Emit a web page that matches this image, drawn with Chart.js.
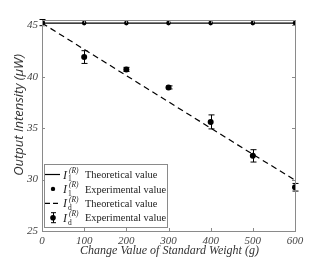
<!DOCTYPE html>
<html>
<head>
<meta charset="utf-8">
<script src="https://cdn.jsdelivr.net/npm/chart.js@4"></script>
<style>
  html, body { margin: 0; padding: 0; background: #fff; }
  #wrap { width: 327px; height: 262px; }
</style>
</head>
<body>
<div id="wrap"><canvas id="chart"></canvas></div>
<script>
const weights = [0, 100, 200, 300, 400, 500, 600];
const i1Theory = [45.2, 45.2, 45.2, 45.2, 45.2, 45.2, 45.2];
const i1Exp = [45.2, 45.2, 45.2, 45.2, 45.2, 45.2, 45.2];
const idTheory = [45.2, 42.65, 40.1, 37.55, 35.0, 32.45, 29.95];
const idExp = [45.25, 41.9, 40.7, 38.95, 35.6, 32.3, 29.25];
const idErr = [0.3, 0.62, 0.2, 0.15, 0.68, 0.6, 0.37];
const xTicks = [0, 100, 200, 300, 400, 500, 600];
const yTicks = [25, 30, 35, 40, 45];

const serif = '"Liberation Serif", "DejaVu Serif", serif';
const sans = '"Open Sans", "Noto Sans", sans-serif';

// frame, inward ticks, error bars, axis titles, legend
const extras = {
  id: 'extras',
  afterDatasetsDraw(chart) {
    const ctx = chart.ctx;
    const a = chart.chartArea;
    const xs = chart.scales.x, ys = chart.scales.y;
    ctx.save();

    // error bars for Id experimental
    ctx.strokeStyle = '#000';
    ctx.lineWidth = 1;
    weights.forEach((w, i) => {
      const px = Math.round(xs.getPixelForValue(w)) + 0.5;
      const top = ys.getPixelForValue(idExp[i] + idErr[i]);
      const bot = ys.getPixelForValue(idExp[i] - idErr[i]);
      ctx.beginPath();
      ctx.moveTo(px, top); ctx.lineTo(px, bot);
      ctx.moveTo(px - 3, top); ctx.lineTo(px + 3, top);
      ctx.moveTo(px - 3, bot); ctx.lineTo(px + 3, bot);
      ctx.stroke();
    });

    // frame
    ctx.strokeStyle = '#8a8a8a';
    ctx.lineWidth = 1;
    ctx.strokeRect(Math.round(a.left) + 0.5, Math.round(a.top) + 0.5,
      Math.round(a.right - a.left), Math.round(a.bottom - a.top));
    ctx.beginPath();
    xTicks.forEach(v => {
      const px = Math.round(xs.getPixelForValue(v)) + 0.5;
      ctx.moveTo(px, a.bottom); ctx.lineTo(px, a.bottom - 3);
      ctx.moveTo(px, a.top); ctx.lineTo(px, a.top + 3);
    });
    yTicks.forEach(v => {
      const py = Math.round(ys.getPixelForValue(v)) + 0.5;
      ctx.moveTo(a.left, py); ctx.lineTo(a.left + 3, py);
      ctx.moveTo(a.right, py); ctx.lineTo(a.right - 3, py);
    });
    ctx.stroke();

    // axis titles
    ctx.fillStyle = '#333';
    ctx.font = 'italic 12px ' + serif;
    ctx.textAlign = 'center';
    ctx.textBaseline = 'middle';
    ctx.fillText('Change Value of Standard Weight (g)', (a.left + a.right) / 2 + 1, 251);
    ctx.save();
    ctx.translate(19, 115);
    ctx.rotate(-Math.PI / 2);
    ctx.font = 'italic 13px ' + sans;
    ctx.fillText('Output Intensity (\u03bcW)', 0, 0);
    ctx.restore();

    // legend
    const lx = 44, ly = 164, lw = 123, lh = 63;
    ctx.fillStyle = '#fff';
    ctx.fillRect(lx, ly, lw, lh);
    ctx.strokeStyle = '#8a8a8a';
    ctx.strokeRect(lx + 0.5, ly + 0.5, lw, lh);
    const rows = [
      { sub: '1', text: 'Theoretical value', kind: 'solid' },
      { sub: '1', text: 'Experimental value', kind: 'dot' },
      { sub: 'd', text: 'Theoretical value', kind: 'dash' },
      { sub: 'd', text: 'Experimental value', kind: 'err' }
    ];
    rows.forEach((r, i) => {
      const y = ly + 10.5 + i * 14.4;
      ctx.strokeStyle = '#000';
      ctx.fillStyle = '#000';
      ctx.lineWidth = 1.2;
      if (r.kind === 'solid' || r.kind === 'dash') {
        ctx.setLineDash(r.kind === 'dash' ? [5, 3] : []);
        ctx.beginPath(); ctx.moveTo(45, y); ctx.lineTo(60, y); ctx.stroke();
        ctx.setLineDash([]);
      } else {
        ctx.beginPath(); ctx.arc(53, y, r.kind === 'dot' ? 2.2 : 2.8, 0, Math.PI * 2); ctx.fill();
        if (r.kind === 'err') {
          ctx.lineWidth = 1;
          ctx.beginPath();
          ctx.moveTo(53.5, y - 5); ctx.lineTo(53.5, y + 5);
          ctx.moveTo(51, y - 5); ctx.lineTo(56, y - 5);
          ctx.moveTo(51, y + 5); ctx.lineTo(56, y + 5);
          ctx.stroke();
        }
      }
      ctx.fillStyle = '#222';
      ctx.textAlign = 'left';
      ctx.textBaseline = 'middle';
      ctx.font = 'italic 12px ' + serif;
      ctx.fillText('I', 63, y + 1);
      ctx.font = 'italic 7.5px ' + serif;
      ctx.fillText('(R)', 69, y - 3.5);
      ctx.font = '7.5px ' + serif;
      ctx.fillText(r.sub, 68, y + 5);
      ctx.font = '10.4px ' + serif;
      ctx.fillText(r.text, 85, y + 1);
    });
    ctx.restore();
  }
};

new Chart(document.getElementById('chart'), {
  type: 'line',
  data: {
    labels: weights,
    datasets: [
      {
        label: 'I1 Theoretical value',
        data: weights.map((w, i) => ({ x: w, y: i1Theory[i] })),
        borderColor: '#000',
        borderWidth: 1.4,
        pointRadius: 0,
        fill: false
      },
      {
        label: 'I1 Experimental value',
        data: weights.map((w, i) => ({ x: w, y: i1Exp[i] })),
        showLine: false,
        pointRadius: 2.3,
        pointBackgroundColor: '#000',
        pointBorderWidth: 0
      },
      {
        label: 'Id Theoretical value',
        data: weights.map((w, i) => ({ x: w, y: idTheory[i] })),
        borderColor: '#000',
        borderWidth: 1.2,
        borderDash: [6, 4],
        pointRadius: 0,
        fill: false
      },
      {
        label: 'Id Experimental value',
        data: weights.map((w, i) => ({ x: w, y: idExp[i] })),
        showLine: false,
        pointRadius: 3,
        pointBackgroundColor: '#000',
        pointBorderWidth: 0
      }
    ]
  },
  options: {
    responsive: true,
    maintainAspectRatio: false,
    animation: false,
    layout: { padding: { top: 20, right: 32, left: 0, bottom: 0 } },
    plugins: {
      legend: { display: false },
      tooltip: { enabled: false }
    },
    scales: {
      x: {
        type: 'linear',
        min: 0,
        max: 600,
        afterBuildTicks: s => { s.ticks = xTicks.map(v => ({ value: v })); },
        afterFit: s => { s.height = 31; },
        grid: { display: false, drawTicks: false },
        border: { display: false },
        ticks: {
          padding: 4,
          color: '#444',
          font: { family: serif, size: 11, style: 'italic' },
          maxRotation: 0
        }
      },
      y: {
        type: 'linear',
        min: 25,
        max: 45.5,
        afterBuildTicks: s => { s.ticks = yTicks.map(v => ({ value: v })); },
        afterFit: s => { s.width = 42; },
        grid: { display: false, drawTicks: false },
        border: { display: false },
        ticks: {
          padding: 4,
          color: '#444',
          font: { family: serif, size: 11, style: 'italic' }
        }
      }
    }
  },
  plugins: [extras]
});
</script>
</body>
</html>
